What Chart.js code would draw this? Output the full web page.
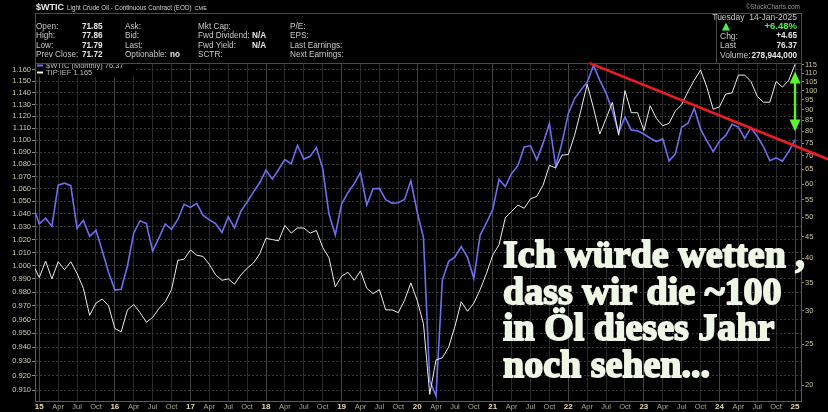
<!DOCTYPE html>
<html>
<head>
<meta charset="utf-8">
<script src="https://cdn.jsdelivr.net/npm/chart.js@4.4.1/dist/chart.umd.min.js"></script>
<style>
  html, body { margin: 0; padding: 0; background: #000; }
  #wrap { width: 828px; height: 412px; }
</style>
</head>
<body>
<div id="wrap"><canvas id="c" width="828" height="412"></canvas></div>
<script>
// Monthly closes, Dec 2014 through Jan 2025 (first entry sits just left of the plot)
const firstYear = 2015;
const wticMonthly = [53.27,
  48.24, 49.76, 47.60, 59.63, 60.30, 59.47, 47.12, 49.20, 45.09, 46.59, 41.65, 37.04,
  33.62, 33.75, 38.34, 45.92, 49.10, 48.33, 41.60, 44.70, 48.24, 46.86, 49.44, 53.72,
  52.81, 54.01, 50.60, 49.33, 48.32, 46.04, 50.17, 47.23, 51.67, 54.38, 57.40, 60.42,
  64.73, 61.64, 64.94, 68.57, 67.04, 74.15, 68.76, 69.80, 73.25, 65.31, 50.93, 45.41,
  53.79, 57.22, 60.14, 63.91, 53.50, 58.47, 58.58, 55.10, 54.07, 54.18, 55.17, 61.06,
  51.56, 44.76, 20.48, 18.84, 35.49, 39.27, 40.27, 42.61, 40.22, 35.79, 45.34, 48.52,
  52.20, 61.50, 59.16, 63.58, 66.32, 73.47, 73.95, 68.50, 75.03, 83.57, 66.18, 75.21,
  88.15, 95.72, 100.28, 104.69, 114.67, 105.76, 98.62, 89.55, 79.49, 86.53, 80.55, 80.26,
  78.87, 77.05, 75.67, 76.78, 68.09, 70.64, 81.80, 83.63, 90.79, 81.02, 75.96, 71.65,
  75.85, 78.26, 83.17, 81.93, 76.99, 81.54, 77.91, 73.55, 68.17, 69.26, 68.00, 71.72,
  76.37];

const tipIefRatio = [1.001,
  0.991, 1.0035, 0.990, 1.003, 0.997, 1.003, 0.994, 0.983, 0.963, 0.972, 0.975, 0.970,
  0.9535, 0.951, 0.967, 0.971, 0.965, 0.958, 0.9615, 0.968, 0.973, 0.982, 1.004, 1.005,
  1.012, 1.008, 1.007, 1.001, 0.993, 0.989, 0.990, 0.986, 0.993, 0.998, 1.002, 1.009,
  1.021, 1.020, 1.019, 1.031, 1.025, 1.029, 1.029, 1.025, 1.027, 1.014, 1.006, 0.984,
  0.992, 0.995, 0.989, 0.996, 0.983, 0.979, 0.982, 0.967, 0.967, 0.965, 0.974, 0.987,
  0.974, 0.957, 0.907, 0.931, 0.9325, 0.940, 0.955, 0.973, 0.966, 0.972, 0.982, 0.994,
  1.008, 1.016, 1.037, 1.042, 1.047, 1.0445, 1.052, 1.054, 1.063, 1.079, 1.077, 1.0875,
  1.088, 1.104, 1.125, 1.1475, 1.127, 1.105, 1.118, 1.132, 1.104, 1.142, 1.123, 1.123,
  1.108, 1.129, 1.118, 1.112, 1.114, 1.1245, 1.130, 1.141, 1.151, 1.160, 1.145, 1.126,
  1.128, 1.139, 1.140, 1.1555, 1.1555, 1.150, 1.137, 1.132, 1.132, 1.150, 1.145, 1.151,
  1.165];

// axis ticks
const ratioTicks = [0.91, 0.92, 0.93, 0.94, 0.95, 0.96, 0.97, 0.98, 0.99, 1.00, 1.01, 1.02, 1.03,
  1.04, 1.05, 1.06, 1.07, 1.08, 1.09, 1.10, 1.11, 1.12, 1.13, 1.14, 1.15, 1.16];
const priceTicks = [20, 25, 30, 35, 40, 45, 50, 55, 60, 65, 70, 75, 80, 85, 90, 95, 100, 105, 110, 115];
const quarterNames = ['', 'Apr', 'Jul', 'Oct'];

// resistance line anchors [month index, price] and target arrow [month index, from, to]
const trendLine = [[87.5, 116], [120, 73.9]];
const targetArrow = [120, 80, 111];

const noteLines = ['Ich würde wetten ,', 'dass wir die ~100', 'in Öl dieses Jahr', 'noch sehen...'];

const quoteRows = [
  ['Open:', '71.85', 'Ask:', '', 'Mkt Cap:', '', 'P/E:'],
  ['High:', '77.86', 'Bid:', '', 'Fwd Dividend:', 'N/A', 'EPS:'],
  ['Low:', '71.79', 'Last:', '', 'Fwd Yield:', 'N/A', 'Last Earnings:'],
  ['Prev Close:', '71.72', 'Optionable:', 'no', 'SCTR:', '', 'Next Earnings:']
];

// month index: 0 = Jan of firstYear
const toPoints = arr => arr.map((v, i) => ({ x: i - 1, y: v }));
const quarterTicks = [];
for (let m = 0; m <= 120; m += 3) quarterTicks.push(m);

const lastPrice = wticMonthly[wticMonthly.length - 1];
const prevPrice = wticMonthly[wticMonthly.length - 2];
const lastRatio = tipIefRatio[tipIefRatio.length - 1];

const SANS = '"Liberation Sans", Arial, sans-serif';

function txt(ctx, s, x, y, font, color, align) {
  ctx.font = font;
  ctx.fillStyle = color;
  ctx.textAlign = align || 'left';
  ctx.textBaseline = 'middle';
  ctx.fillText(s, x, y);
  return ctx.measureText(s).width;
}

const decorations = {
  id: 'decorations',
  beforeDraw(chart) {
    const ctx = chart.ctx;
    ctx.save();
    ctx.fillStyle = '#000';
    ctx.fillRect(0, 0, chart.width, chart.height);
    ctx.restore();
  },
  afterDatasetsDraw(chart) {
    const ctx = chart.ctx;
    const xs = chart.scales.x, yr = chart.scales.yR;
    ctx.save();
    // red resistance line, carried on to the canvas edge
    const x1 = xs.getPixelForValue(trendLine[0][0]), y1 = yr.getPixelForValue(trendLine[0][1]);
    const x2 = xs.getPixelForValue(trendLine[1][0]), y2 = yr.getPixelForValue(trendLine[1][1]);
    const slope = (y2 - y1) / (x2 - x1);
    const xe = chart.width;
    ctx.strokeStyle = '#ec1c24';
    ctx.lineWidth = 2.6;
    ctx.lineCap = 'round';
    ctx.beginPath();
    ctx.moveTo(x1, y1);
    ctx.lineTo(xe, y1 + slope * (xe - x1));
    ctx.stroke();

    // green double arrow
    const ax = xs.getPixelForValue(targetArrow[0]);
    const yb = yr.getPixelForValue(targetArrow[1]);
    const yt = yr.getPixelForValue(targetArrow[2]);
    ctx.strokeStyle = '#5cf22e';
    ctx.fillStyle = '#5cf22e';
    ctx.lineWidth = 2.4;
    ctx.lineCap = 'butt';
    ctx.beginPath();
    ctx.moveTo(ax, yt + 8);
    ctx.lineTo(ax, yb - 8);
    ctx.stroke();
    ctx.beginPath();
    ctx.moveTo(ax, yt); ctx.lineTo(ax - 5.5, yt + 12); ctx.lineTo(ax + 5.5, yt + 12); ctx.closePath();
    ctx.fill();
    ctx.beginPath();
    ctx.moveTo(ax, yb); ctx.lineTo(ax - 5.5, yb - 12); ctx.lineTo(ax + 5.5, yb - 12); ctx.closePath();
    ctx.fill();

    // legend
    ctx.fillStyle = '#000';
    ctx.fillRect(36, 62, 98, 15);
    ctx.lineWidth = 2;
    ctx.strokeStyle = '#6e6ef0';
    ctx.beginPath(); ctx.moveTo(37, 65.5); ctx.lineTo(43, 65.5); ctx.stroke();
    ctx.strokeStyle = '#f0f0f0';
    ctx.beginPath(); ctx.moveTo(37, 72.5); ctx.lineTo(43, 72.5); ctx.stroke();
    txt(ctx, '$WTIC (Monthly) ' + lastPrice.toFixed(2), 46, 65.5, '7.5px ' + SANS, '#bdbdbd');
    txt(ctx, 'TIP:IEF ' + lastRatio.toFixed(3), 46, 72.8, '7.5px ' + SANS, '#bdbdbd');
    ctx.restore();
  },
  afterDraw(chart) {
    const ctx = chart.ctx;
    ctx.save();
    // quote header
    const w1 = txt(ctx, '$WTIC', 36, 7.5, 'bold 9px ' + SANS, '#e8e8e8');
    const w2 = txt(ctx, 'Light Crude Oil - Continuous Contract (EOD)', 36 + w1 + 3, 8, '6.3px ' + SANS, '#d0d0d0');
    txt(ctx, 'CME', 36 + w1 + 3 + w2 + 3, 8, '5.5px ' + SANS, '#d0d0d0');
    txt(ctx, '\u00A9StockCharts.com', 800, 7.5, '6.5px ' + SANS, '#9a9a9a', 'right');

    ctx.strokeStyle = '#4a4a4a';
    ctx.lineWidth = 1;
    ctx.strokeRect(35.5, 13.5, 766, 50);
    ctx.beginPath(); ctx.moveTo(716.5, 13.5); ctx.lineTo(716.5, 63.5); ctx.stroke();

    const rowY = [26.5, 36, 45.5, 55];
    const lab = '8.2px ' + SANS, val = 'bold 8.2px ' + SANS;
    quoteRows.forEach((r, i) => {
      const y = rowY[i];
      txt(ctx, r[0], 36, y, lab, '#c8c8c8');
      txt(ctx, r[1], 82, y, val, '#e6e6e6');
      txt(ctx, r[2], 125, y, lab, '#c8c8c8');
      if (r[3]) txt(ctx, r[3], 170, y, val, '#e6e6e6');
      txt(ctx, r[4], 198, y, lab, '#c8c8c8');
      if (r[5]) txt(ctx, r[5], 252, y, val, '#e6e6e6');
      txt(ctx, r[6], 290, y, lab, '#c8c8c8');
    });

    const chg = lastPrice - prevPrice;
    const pct = chg / prevPrice * 100;
    txt(ctx, 'Tuesday  14-Jan-2025', 797, 17.3, '8.5px ' + SANS, '#c8c8c8', 'right');
    ctx.fillStyle = '#4cf24c';
    ctx.beginPath(); ctx.moveTo(726, 22.5); ctx.lineTo(722, 30.5); ctx.lineTo(730, 30.5); ctx.closePath(); ctx.fill();
    txt(ctx, '+' + pct.toFixed(2) + '%', 797, 26.8, 'bold 9.5px ' + SANS, '#4cf24c', 'right');
    txt(ctx, 'Chg:', 720, 36.2, '8.5px ' + SANS, '#c8c8c8');
    txt(ctx, '+' + chg.toFixed(2), 797, 36.2, val, '#e6e6e6', 'right');
    txt(ctx, 'Last', 720, 45.5, '8.5px ' + SANS, '#c8c8c8');
    txt(ctx, lastPrice.toFixed(2), 797, 45.5, val, '#e6e6e6', 'right');
    txt(ctx, 'Volume:', 720, 55.3, '8.5px ' + SANS, '#c8c8c8');
    txt(ctx, '278,944,000', 797, 55.3, val, '#e6e6e6', 'right');

    // comment text
    ctx.font = 'bold 38px "Liberation Serif", "Times New Roman", serif';
    ctx.textAlign = 'left';
    ctx.textBaseline = 'alphabetic';
    ctx.fillStyle = '#eef7e6';
    ctx.strokeStyle = '#eef7e6';
    ctx.lineWidth = 1.8;
    ctx.lineJoin = 'round';
    const base = [267, 303.5, 340, 376.5];
    noteLines.forEach((s, i) => {
      ctx.strokeText(s, 503, base[i]);
      ctx.fillText(s, 503, base[i]);
    });
    ctx.restore();
  }
};

new Chart(document.getElementById('c'), {
  type: 'line',
  data: {
    datasets: [
      {
        label: 'TIP:IEF',
        data: toPoints(tipIefRatio),
        yAxisID: 'yL',
        borderColor: '#ececec',
        borderWidth: 1,
        pointRadius: 0,
        tension: 0
      },
      {
        label: '$WTIC (Monthly)',
        data: toPoints(wticMonthly),
        yAxisID: 'yR',
        borderColor: '#6e6ef0',
        borderWidth: 1.6,
        pointRadius: 0,
        tension: 0
      }
    ]
  },
  options: {
    responsive: false,
    animation: false,
    devicePixelRatio: 1,
    layout: { padding: { top: 63, left: 0, right: 0, bottom: 0 } },
    plugins: { legend: { display: false }, tooltip: { enabled: false } },
    scales: {
      x: {
        type: 'linear',
        bounds: 'data',
        min: -0.68,
        max: 120.95,
        afterBuildTicks: s => { s.ticks = quarterTicks.map(v => ({ value: v })); },
        afterFit: s => { s.height = 11; },
        grid: {
          color: c => (c.tick && c.tick.value % 12 === 0) ? '#444' : '#2a2a2a',
          drawTicks: false
        },
        border: { color: '#5a5a5a' },
        ticks: {
          autoSkip: false,
          maxRotation: 0,
          padding: 1,
          callback: v => v % 12 === 0 ? String((firstYear + v / 12) % 100).padStart(2, '0') : quarterNames[(v % 12) / 3],
          font: c => (c.tick && c.tick.value % 12 === 0) ? { family: SANS, size: 8, weight: 'bold' } : { family: SANS, size: 7.5 },
          color: c => (c.tick && c.tick.value % 12 === 0) ? '#e4dca6' : '#a9a690'
        }
      },
      yL: {
        type: 'logarithmic',
        position: 'left',
        bounds: 'data',
        min: 0.90244,
        max: 1.16617,
        afterBuildTicks: s => { s.ticks = ratioTicks.map(v => ({ value: v })); },
        afterFit: s => { s.width = 35; },
        grid: { color: '#383838', tickColor: '#8a8a7a', tickLength: 3 },
        border: { color: '#5a5a5a', dash: [2, 2] },
        ticks: {
          padding: 1,
          callback: v => Number(v).toFixed(3),
          font: { family: SANS, size: 7.5 },
          color: '#cdcaa8'
        }
      },
      yR: {
        type: 'logarithmic',
        position: 'right',
        bounds: 'data',
        min: 18.33,
        max: 116.26,
        afterBuildTicks: s => { s.ticks = priceTicks.map(v => ({ value: v })); },
        afterFit: s => { s.width = 27; },
        grid: { drawOnChartArea: false, tickColor: '#8a8a7a', tickLength: 3 },
        border: { color: '#5a5a5a' },
        ticks: {
          padding: 1,
          callback: v => String(v),
          font: { family: SANS, size: 7.5 },
          color: '#c9c296'
        }
      }
    }
  },
  plugins: [decorations]
});
</script>
</body>
</html>
